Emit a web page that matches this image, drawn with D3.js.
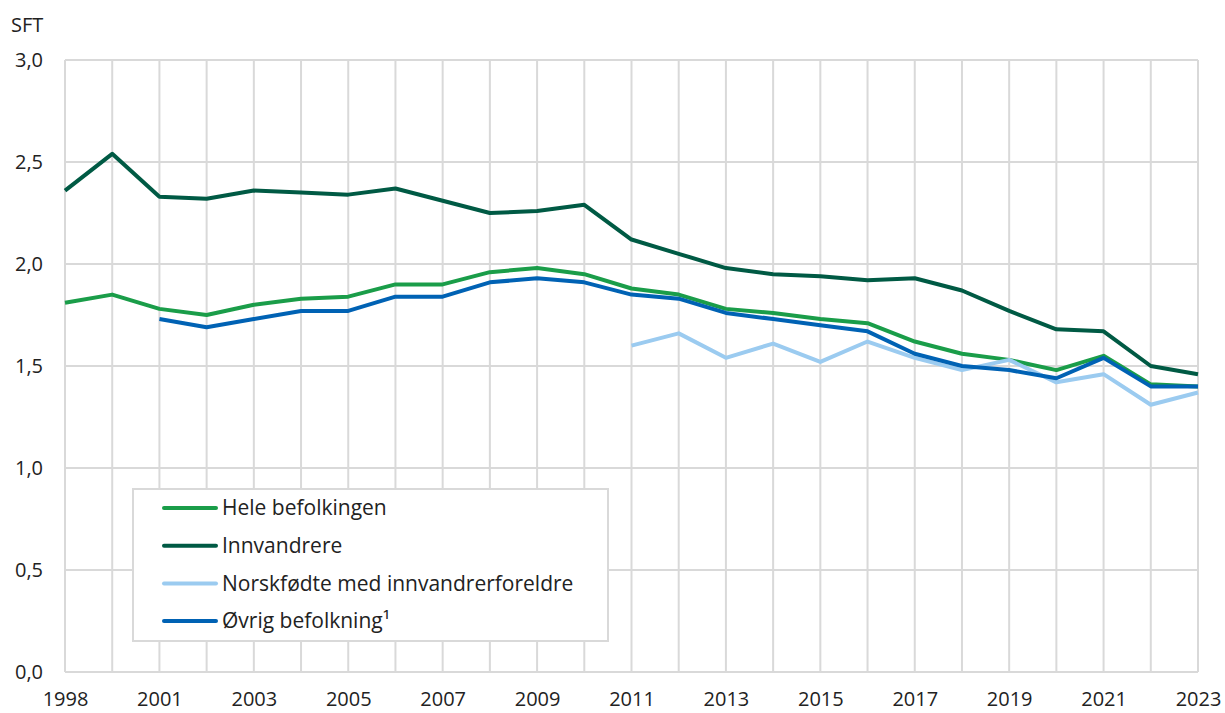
<!DOCTYPE html>
<html>
<head>
<meta charset="utf-8">
<script src="https://cdn.jsdelivr.net/npm/d3@7"></script>
<style>
  body { margin: 0; background: #fff; }
  svg text { font-family: "Open Sans", sans-serif; fill: #222; }
</style>
</head>
<body>
<div id="chart"></div>
<script>
// data
const years = ['1998', '2000', '2001', '2002', '2003', '2004', '2005', '2006', '2007', '2008',
  '2009', '2010', '2011', '2012', '2013', '2014', '2015', '2016', '2017', '2018',
  '2019', '2020', '2021', '2022', '2023'];

const hele = [1.81, 1.85, 1.78, 1.75, 1.80, 1.83, 1.84, 1.90, 1.90, 1.96, 1.98, 1.95, 1.88,
  1.85, 1.78, 1.76, 1.73, 1.71, 1.62, 1.56, 1.53, 1.48, 1.55, 1.41, 1.40];
const innvandrere = [2.36, 2.54, 2.33, 2.32, 2.36, 2.35, 2.34, 2.37, 2.31, 2.25, 2.26, 2.29, 2.12,
  2.05, 1.98, 1.95, 1.94, 1.92, 1.93, 1.87, 1.77, 1.68, 1.67, 1.50, 1.46];
const norskfodte = [null, null, null, null, null, null, null, null, null, null, null, null, 1.60,
  1.66, 1.54, 1.61, 1.52, 1.62, 1.54, 1.48, 1.53, 1.42, 1.46, 1.31, 1.37];
const ovrig = [null, null, 1.73, 1.69, 1.73, 1.77, 1.77, 1.84, 1.84, 1.91, 1.93, 1.91, 1.85,
  1.83, 1.76, 1.73, 1.70, 1.67, 1.56, 1.50, 1.48, 1.44, 1.54, 1.40, 1.40];

const yTicks = [0, 0.5, 1, 1.5, 2, 2.5, 3];

const series = [
  { name: 'Hele befolkingen', values: hele, color: '#1a9d49' },
  { name: 'Innvandrere', values: innvandrere, color: '#005a44' },
  { name: 'Norskfødte med innvandrerforeldre', values: norskfodte, color: '#9bcbf0' },
  { name: 'Øvrig befolkning¹', values: ovrig, color: '#0062b4' }
];
// drawing order (top-most last)
const drawOrder = [1, 0, 2, 3];

const width = 1225, height = 713;
const margin = { top: 60, right: 27, bottom: 41, left: 65 };
const innerW = width - margin.left - margin.right;
const innerH = height - margin.top - margin.bottom;

const svg = d3.select('#chart').append('svg')
  .attr('width', width)
  .attr('height', height);

const g = svg.append('g')
  .attr('transform', 'translate(' + margin.left + ',' + margin.top + ')');

const x = d3.scalePoint()
  .domain(years)
  .range([0, innerW]);

const y = d3.scaleLinear()
  .domain([0, 3])
  .range([innerH, 0]);

const fmt = v => d3.format('.1f')(v).replace('.', ',');

// grid
g.append('g')
  .selectAll('line')
  .data(yTicks)
  .join('line')
    .attr('x1', 0).attr('x2', innerW)
    .attr('y1', d => y(d)).attr('y2', d => y(d))
    .attr('stroke', '#d9d9d9')
    .attr('stroke-width', 2);

g.append('g')
  .selectAll('line')
  .data(years)
  .join('line')
    .attr('x1', d => x(d)).attr('x2', d => x(d))
    .attr('y1', 0).attr('y2', innerH)
    .attr('stroke', '#d9d9d9')
    .attr('stroke-width', 2);

// axes
const yAxis = g.append('g')
  .call(d3.axisLeft(y).tickValues(yTicks).tickFormat(fmt).tickSize(0).tickPadding(22));
yAxis.select('.domain').remove();
yAxis.selectAll('text').style('font-size', '20px').attr('fill', '#222');

const xAxis = g.append('g')
  .attr('transform', 'translate(0,' + innerH + ')')
  .call(d3.axisBottom(x).tickValues(years.filter((d, i) => i % 2 === 0)).tickSize(0).tickPadding(20));
xAxis.select('.domain').remove();
xAxis.selectAll('text').style('font-size', '20px').attr('fill', '#222');

svg.append('text')
  .attr('x', 11)
  .attr('y', 32)
  .style('font-size', '20px')
  .text('SFT');

// lines
const line = d3.line()
  .defined(d => d != null)
  .x((d, i) => x(years[i]))
  .y(d => y(d));

drawOrder.forEach(k => {
  const s = series[k];
  g.append('path')
    .datum(s.values)
    .attr('fill', 'none')
    .attr('stroke', s.color)
    .attr('stroke-width', 4)
    .attr('stroke-linejoin', 'round')
    .attr('d', line);
});

// legend
const legend = svg.append('g').attr('transform', 'translate(133,489)');
legend.append('rect')
  .attr('width', 475)
  .attr('height', 152)
  .attr('fill', '#fff')
  .attr('stroke', '#d9d9d9')
  .attr('stroke-width', 2);

const items = legend.selectAll('g.item')
  .data(series)
  .join('g')
    .attr('class', 'item')
    .attr('transform', (d, i) => 'translate(0,' + (19 + i * 37.7) + ')');

items.append('line')
  .attr('x1', 31).attr('x2', 83)
  .attr('stroke', d => d.color)
  .attr('stroke-width', 4)
  .attr('stroke-linecap', 'round');

items.append('text')
  .attr('x', 89)
  .attr('dy', '0.35em')
  .style('font-size', '21px')
  .text(d => d.name);
</script>
</body>
</html>
